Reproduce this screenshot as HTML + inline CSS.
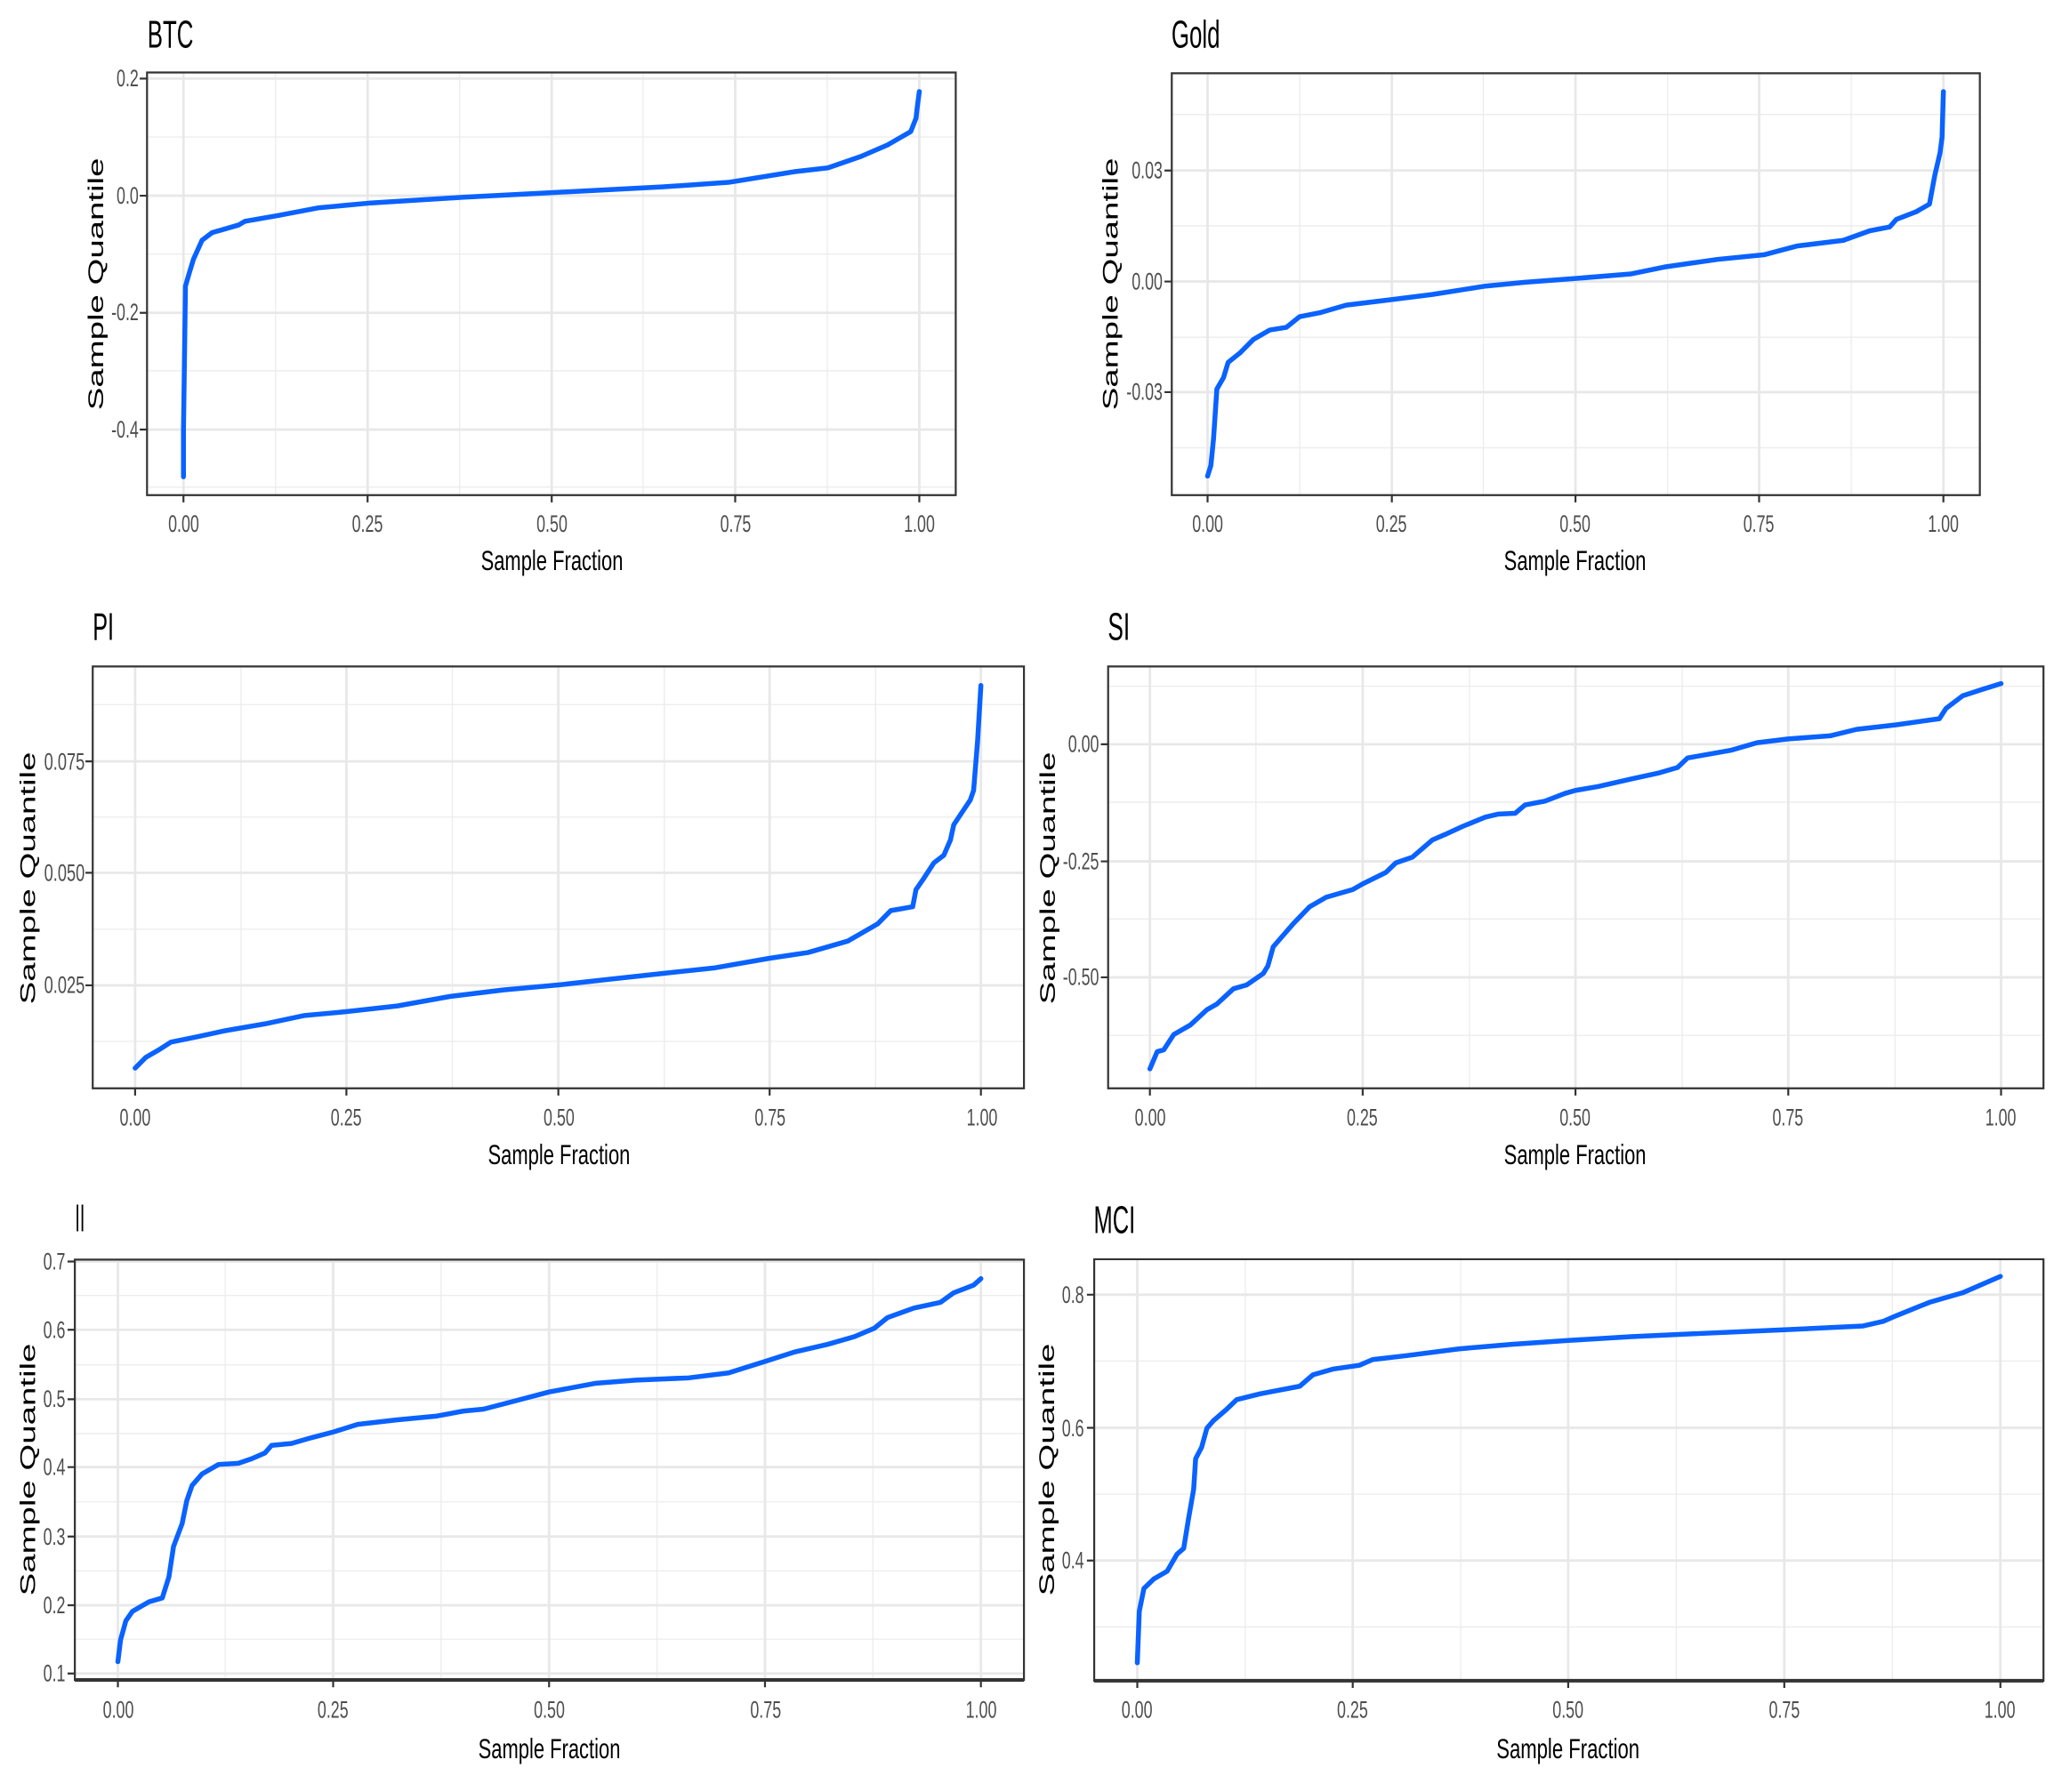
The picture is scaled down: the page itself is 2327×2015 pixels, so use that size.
<!DOCTYPE html>
<html><head><meta charset="utf-8"><style>
html,body{margin:0;padding:0;background:#fff;}
svg text{font-family:"Liberation Sans",sans-serif;}
.t{font-size:27px;fill:#4d4d4d;}
.ti{font-size:44px;fill:#000;}
.ax{font-size:32px;fill:#000;}
.yt{font-size:24px;fill:#000;}
.mi{stroke:#ececec;stroke-width:1.3;vector-effect:non-scaling-stroke;fill:none}
.ma{stroke:#e8e8e8;stroke-width:2.8;vector-effect:non-scaling-stroke;fill:none}
.cv{stroke:#0a62ff;stroke-width:5.5;vector-effect:non-scaling-stroke;fill:none;stroke-linejoin:round;stroke-linecap:round}
.bx{stroke:#333;stroke-width:2.2;vector-effect:non-scaling-stroke;fill:none}
.tk{stroke:#333;stroke-width:2.2;vector-effect:non-scaling-stroke;fill:none}
</style></head><body>
<svg width="2327" height="2010" viewBox="0 0 2327 2010" xmlns="http://www.w3.org/2000/svg">
<rect width="2327" height="2010" fill="#fff"/>

<!-- BTC -->
<svg x="0" y="0" width="1163" height="670" viewBox="0 0 1562 1562" preserveAspectRatio="none">
<path class="mi" d="M416 190V1298M694 190V1298M971 190V1298M1249 190V1298M222 359H1443M222 666H1443M222 972H1443M222 1277H1443"/>
<path class="ma" d="M277 190V1298M555 190V1298M833 190V1298M1110 190V1298M1388 190V1298M222 206H1443M222 513H1443M222 820H1443M222 1126H1443"/>
<polyline class="cv" points="277,1250 277,1130 279,880 280,750 285,720 292,680 305,630 320,610 360,590 370,580 420,565 480,545 560,532 700,517 833,505 1000,490 1100,478 1200,450 1250,440 1300,410 1340,380 1375,345 1383,310 1385,280 1388,240"/>
<rect class="bx" x="222" y="190" width="1221" height="1108"/>
<path class="tk" d="M211 206H222M211 513H222M211 820H222M211 1126H222M277 1298V1317M555 1298V1317M833 1298V1317M1110 1298V1317M1388 1298V1317"/>
</svg>
<g transform="scale(0.9928,0.9921)">
<text class="ti" x="167" y="54" textLength="52" lengthAdjust="spacingAndGlyphs">BTC</text>
<g class="t" text-anchor="end">
<text x="157" y="98" textLength="25" lengthAdjust="spacingAndGlyphs">0.2</text>
<text x="157" y="231" textLength="25" lengthAdjust="spacingAndGlyphs">0.0</text>
<text x="157" y="363" textLength="31" lengthAdjust="spacingAndGlyphs">-0.2</text>
<text x="157" y="496" textLength="31" lengthAdjust="spacingAndGlyphs">-0.4</text>
</g>
<g class="t" text-anchor="middle">
<text x="208" y="603" textLength="35" lengthAdjust="spacingAndGlyphs">0.00</text>
<text x="416" y="603" textLength="35" lengthAdjust="spacingAndGlyphs">0.25</text>
<text x="625" y="603" textLength="35" lengthAdjust="spacingAndGlyphs">0.50</text>
<text x="833" y="603" textLength="35" lengthAdjust="spacingAndGlyphs">0.75</text>
<text x="1041" y="603" textLength="35" lengthAdjust="spacingAndGlyphs">1.00</text>
</g>
<text class="ax" x="625" y="646" text-anchor="middle" textLength="161" lengthAdjust="spacingAndGlyphs">Sample Fraction</text>
<text class="yt" transform="translate(117,322) rotate(-90)" text-anchor="middle" textLength="286" lengthAdjust="spacingAndGlyphs">Sample Quantile</text>
</g>

<!-- Gold -->
<svg x="1163" y="0" width="1164" height="670" viewBox="0 0 1562 1562" preserveAspectRatio="none">
<path class="mi" d="M400 192V1298M677 192V1298M955 192V1298M1232 192V1298M207 300H1426M207 592H1426M207 884H1426M207 1174H1426"/>
<path class="ma" d="M261 192V1298M539 192V1298M816 192V1298M1093 192V1298M1371 192V1298M207 447H1426M207 738H1426M207 1028H1426"/>
<polyline class="cv" points="261,1248 266,1220 270,1150 275,1020 285,990 292,950 310,925 330,890 355,865 380,858 400,830 430,820 470,800 540,785 600,772 680,750 740,740 816,730 900,718 950,700 1030,680 1100,668 1150,645 1220,630 1260,605 1290,595 1300,575 1330,555 1350,535 1358,460 1366,400 1369,360 1371,240"/>
<rect class="bx" x="207" y="192" width="1219" height="1106"/>
<path class="tk" d="M196 447H207M196 738H207M196 1028H207M261 1298V1317M539 1298V1317M816 1298V1317M1093 1298V1317M1371 1298V1317"/>
</svg>
<g transform="translate(1163,0) scale(0.9928,0.9921) translate(-1163,0)">
<text class="ti" x="1318" y="54" textLength="55" lengthAdjust="spacingAndGlyphs">Gold</text>
<g class="t" text-anchor="end">
<text x="1308" y="202" textLength="35" lengthAdjust="spacingAndGlyphs">0.03</text>
<text x="1308" y="328" textLength="35" lengthAdjust="spacingAndGlyphs">0.00</text>
<text x="1308" y="453" textLength="41" lengthAdjust="spacingAndGlyphs">-0.03</text>
</g>
<g class="t" text-anchor="middle">
<text x="1359" y="603" textLength="35" lengthAdjust="spacingAndGlyphs">0.00</text>
<text x="1567" y="603" textLength="35" lengthAdjust="spacingAndGlyphs">0.25</text>
<text x="1775" y="603" textLength="35" lengthAdjust="spacingAndGlyphs">0.50</text>
<text x="1983" y="603" textLength="35" lengthAdjust="spacingAndGlyphs">0.75</text>
<text x="2192" y="603" textLength="35" lengthAdjust="spacingAndGlyphs">1.00</text>
</g>
<text class="ax" x="1775" y="646" text-anchor="middle" textLength="161" lengthAdjust="spacingAndGlyphs">Sample Fraction</text>
<text class="yt" transform="translate(1257,322) rotate(-90)" text-anchor="middle" textLength="286" lengthAdjust="spacingAndGlyphs">Sample Quantile</text>
</g>

<!-- PI -->
<svg x="0" y="670" width="1163" height="670" viewBox="0 0 1562 1562" preserveAspectRatio="none">
<path class="mi" d="M364 185V1291M683 185V1291M1003 185V1291M1322 185V1291M140 285H1546M140 580H1546M140 874H1546M140 1168H1546"/>
<path class="ma" d="M204 185V1291M523 185V1291M843 185V1291M1162 185V1291M1481 185V1291M140 434H1546M140 726H1546M140 1021H1546"/>
<polyline class="cv" points="204,1238 220,1210 240,1190 258,1170 300,1155 340,1140 400,1122 460,1100 523,1090 600,1075 680,1050 760,1033 843,1020 920,1005 1000,990 1080,975 1162,950 1220,935 1280,905 1300,885 1325,860 1345,825 1378,815 1383,770 1395,740 1410,700 1425,680 1435,640 1440,600 1465,535 1470,510 1476,380 1481,235"/>
<rect class="bx" x="140" y="185" width="1406" height="1106"/>
<path class="tk" d="M129 434H140M129 726H140M129 1021H140M204 1291V1310M523 1291V1310M843 1291V1310M1162 1291V1310M1481 1291V1310"/>
</svg>
<g transform="translate(0,670) scale(0.9928,0.9921) translate(0,-670)">
<text class="ti" x="105" y="720" textLength="24" lengthAdjust="spacingAndGlyphs">PI</text>
<g class="t" text-anchor="end">
<text x="96" y="867" textLength="46" lengthAdjust="spacingAndGlyphs">0.075</text>
<text x="96" y="993" textLength="46" lengthAdjust="spacingAndGlyphs">0.050</text>
<text x="96" y="1120" textLength="46" lengthAdjust="spacingAndGlyphs">0.025</text>
</g>
<g class="t" text-anchor="middle">
<text x="153" y="1270" textLength="35" lengthAdjust="spacingAndGlyphs">0.00</text>
<text x="392" y="1270" textLength="35" lengthAdjust="spacingAndGlyphs">0.25</text>
<text x="633" y="1270" textLength="35" lengthAdjust="spacingAndGlyphs">0.50</text>
<text x="872" y="1270" textLength="35" lengthAdjust="spacingAndGlyphs">0.75</text>
<text x="1112" y="1270" textLength="35" lengthAdjust="spacingAndGlyphs">1.00</text>
</g>
<text class="ax" x="633" y="1314" text-anchor="middle" textLength="161" lengthAdjust="spacingAndGlyphs">Sample Fraction</text>
<text class="yt" transform="translate(40,990) rotate(-90)" text-anchor="middle" textLength="286" lengthAdjust="spacingAndGlyphs">Sample Quantile</text>
</g>

<!-- SI -->
<svg x="1163" y="670" width="1164" height="670" viewBox="0 0 1562 1562" preserveAspectRatio="none">
<path class="mi" d="M334 185V1291M656 185V1291M977 185V1291M1298 185V1291M111 237H1522M111 541H1522M111 847H1522M111 1152H1522"/>
<path class="ma" d="M174 185V1291M495 185V1291M816 185V1291M1137 185V1291M1458 185V1291M111 389H1522M111 696H1522M111 1000H1522"/>
<polyline class="cv" points="174,1240 185,1195 195,1190 210,1150 235,1125 260,1085 275,1070 300,1030 320,1020 345,990 352,970 360,920 375,890 390,860 415,815 440,790 480,770 495,755 530,725 545,700 570,685 600,640 620,625 645,605 680,580 700,572 725,570 740,548 770,538 800,518 816,510 850,500 900,480 940,465 970,450 985,425 1050,405 1090,385 1137,375 1200,367 1240,350 1300,338 1365,322 1375,295 1400,262 1430,245 1458,230"/>
<rect class="bx" x="111" y="185" width="1411" height="1106"/>
<path class="tk" d="M100 389H111M100 696H111M100 1000H111M174 1291V1310M495 1291V1310M816 1291V1310M1137 1291V1310M1458 1291V1310"/>
</svg>
<g transform="translate(1163,670) scale(0.9928,0.9921) translate(-1163,-670)">
<text class="ti" x="1246" y="720" textLength="25" lengthAdjust="spacingAndGlyphs">SI</text>
<g class="t" text-anchor="end">
<text x="1236" y="847" textLength="35" lengthAdjust="spacingAndGlyphs">0.00</text>
<text x="1236" y="980" textLength="41" lengthAdjust="spacingAndGlyphs">-0.25</text>
<text x="1236" y="1111" textLength="41" lengthAdjust="spacingAndGlyphs">-0.50</text>
</g>
<g class="t" text-anchor="middle">
<text x="1294" y="1270" textLength="35" lengthAdjust="spacingAndGlyphs">0.00</text>
<text x="1534" y="1270" textLength="35" lengthAdjust="spacingAndGlyphs">0.25</text>
<text x="1775" y="1270" textLength="35" lengthAdjust="spacingAndGlyphs">0.50</text>
<text x="2016" y="1270" textLength="35" lengthAdjust="spacingAndGlyphs">0.75</text>
<text x="2257" y="1270" textLength="35" lengthAdjust="spacingAndGlyphs">1.00</text>
</g>
<text class="ax" x="1775" y="1314" text-anchor="middle" textLength="161" lengthAdjust="spacingAndGlyphs">Sample Fraction</text>
<text class="yt" transform="translate(1186,990) rotate(-90)" text-anchor="middle" textLength="286" lengthAdjust="spacingAndGlyphs">Sample Quantile</text>
</g>

<!-- II -->
<svg x="0" y="1340" width="1163" height="670" viewBox="0 0 1562 1562" preserveAspectRatio="none">
<path class="mi" d="M340 178V1280M666 178V1280M992 178V1280M1318 178V1280M113 272H1546M113 454H1546M113 634H1546M113 813H1546M113 994H1546M113 1173H1546"/>
<path class="ma" d="M178 178V1280M503 178V1280M829 178V1280M1155 178V1280M1481 178V1280M113 183H1546M113 362H1546M113 544H1546M113 722H1546M113 904H1546M113 1084H1546M113 1263H1546"/>
<polyline class="cv" points="178,1232 182,1175 190,1125 200,1100 225,1075 245,1065 255,1010 262,930 275,870 282,810 290,770 305,740 330,715 360,712 380,700 400,685 410,665 440,660 470,645 503,630 540,610 600,598 660,588 700,575 730,570 770,552 829,525 900,502 960,494 1040,488 1100,475 1155,445 1200,420 1250,400 1290,380 1320,358 1340,330 1380,305 1420,290 1440,265 1470,245 1481,228"/>
<rect class="bx" x="113" y="178" width="1433" height="1102"/>
<path class="bx" style="stroke-width:4" d="M113 1280H1546"/>
<path class="tk" d="M102 183H113M102 362H113M102 544H113M102 722H113M102 904H113M102 1084H113M102 1263H113M178 1280V1299M503 1280V1299M829 1280V1299M1155 1280V1299M1481 1280V1299"/>
</svg>
<g transform="translate(0,1340) scale(0.9928,0.9921) translate(0,-1340)">
<text class="ti" x="85" y="1385" textLength="11" lengthAdjust="spacingAndGlyphs">II</text>
<g class="t" text-anchor="end">
<text x="74" y="1428" textLength="25" lengthAdjust="spacingAndGlyphs">0.7</text>
<text x="74" y="1506" textLength="25" lengthAdjust="spacingAndGlyphs">0.6</text>
<text x="74" y="1584" textLength="25" lengthAdjust="spacingAndGlyphs">0.5</text>
<text x="74" y="1661" textLength="25" lengthAdjust="spacingAndGlyphs">0.4</text>
<text x="74" y="1740" textLength="25" lengthAdjust="spacingAndGlyphs">0.3</text>
<text x="74" y="1818" textLength="25" lengthAdjust="spacingAndGlyphs">0.2</text>
<text x="74" y="1895" textLength="25" lengthAdjust="spacingAndGlyphs">0.1</text>
</g>
<g class="t" text-anchor="middle">
<text x="134" y="1936" textLength="35" lengthAdjust="spacingAndGlyphs">0.00</text>
<text x="377" y="1936" textLength="35" lengthAdjust="spacingAndGlyphs">0.25</text>
<text x="622" y="1936" textLength="35" lengthAdjust="spacingAndGlyphs">0.50</text>
<text x="867" y="1936" textLength="35" lengthAdjust="spacingAndGlyphs">0.75</text>
<text x="1111" y="1936" textLength="35" lengthAdjust="spacingAndGlyphs">1.00</text>
</g>
<text class="ax" x="622" y="1982" text-anchor="middle" textLength="161" lengthAdjust="spacingAndGlyphs">Sample Fraction</text>
<text class="yt" transform="translate(40,1655) rotate(-90)" text-anchor="middle" textLength="286" lengthAdjust="spacingAndGlyphs">Sample Quantile</text>
</g>

<!-- MCI -->
<svg x="1163" y="1340" width="1164" height="670" viewBox="0 0 1562 1562" preserveAspectRatio="none">
<path class="mi" d="M318 177V1282M643 177V1282M968 177V1282M1294 177V1282M90 444H1522M90 793H1522M90 1141H1522"/>
<path class="ma" d="M155 177V1282M480 177V1282M805 177V1282M1131 177V1282M1457 177V1282M90 270H1522M90 619H1522M90 967H1522"/>
<polyline class="cv" points="155,1235 158,1100 165,1040 180,1015 200,995 215,950 225,935 232,860 240,780 243,700 252,670 260,620 270,600 290,570 305,545 340,530 400,510 420,480 450,465 490,455 510,440 560,430 640,412 720,400 805,390 900,380 1000,372 1131,362 1250,352 1280,340 1300,325 1350,290 1400,265 1457,222"/>
<rect class="bx" x="90" y="177" width="1432" height="1105"/>
<path class="bx" style="stroke-width:4" d="M90 1282H1522"/>
<path class="tk" d="M79 270H90M79 619H90M79 967H90M155 1282V1301M480 1282V1301M805 1282V1301M1131 1282V1301M1457 1282V1301"/>
</svg>
<g transform="translate(1163,1340) scale(0.9928,0.9921) translate(-1163,-1340)">
<text class="ti" x="1230" y="1387" textLength="47" lengthAdjust="spacingAndGlyphs">MCI</text>
<g class="t" text-anchor="end">
<text x="1219" y="1466" textLength="25" lengthAdjust="spacingAndGlyphs">0.8</text>
<text x="1219" y="1617" textLength="25" lengthAdjust="spacingAndGlyphs">0.6</text>
<text x="1219" y="1767" textLength="25" lengthAdjust="spacingAndGlyphs">0.4</text>
</g>
<g class="t" text-anchor="middle">
<text x="1279" y="1936" textLength="35" lengthAdjust="spacingAndGlyphs">0.00</text>
<text x="1523" y="1936" textLength="35" lengthAdjust="spacingAndGlyphs">0.25</text>
<text x="1767" y="1936" textLength="35" lengthAdjust="spacingAndGlyphs">0.50</text>
<text x="2012" y="1936" textLength="35" lengthAdjust="spacingAndGlyphs">0.75</text>
<text x="2256" y="1936" textLength="35" lengthAdjust="spacingAndGlyphs">1.00</text>
</g>
<text class="ax" x="1767" y="1982" text-anchor="middle" textLength="162" lengthAdjust="spacingAndGlyphs">Sample Fraction</text>
<text class="yt" transform="translate(1185,1655) rotate(-90)" text-anchor="middle" textLength="286" lengthAdjust="spacingAndGlyphs">Sample Quantile</text>
</g>
</svg>
</body></html>
